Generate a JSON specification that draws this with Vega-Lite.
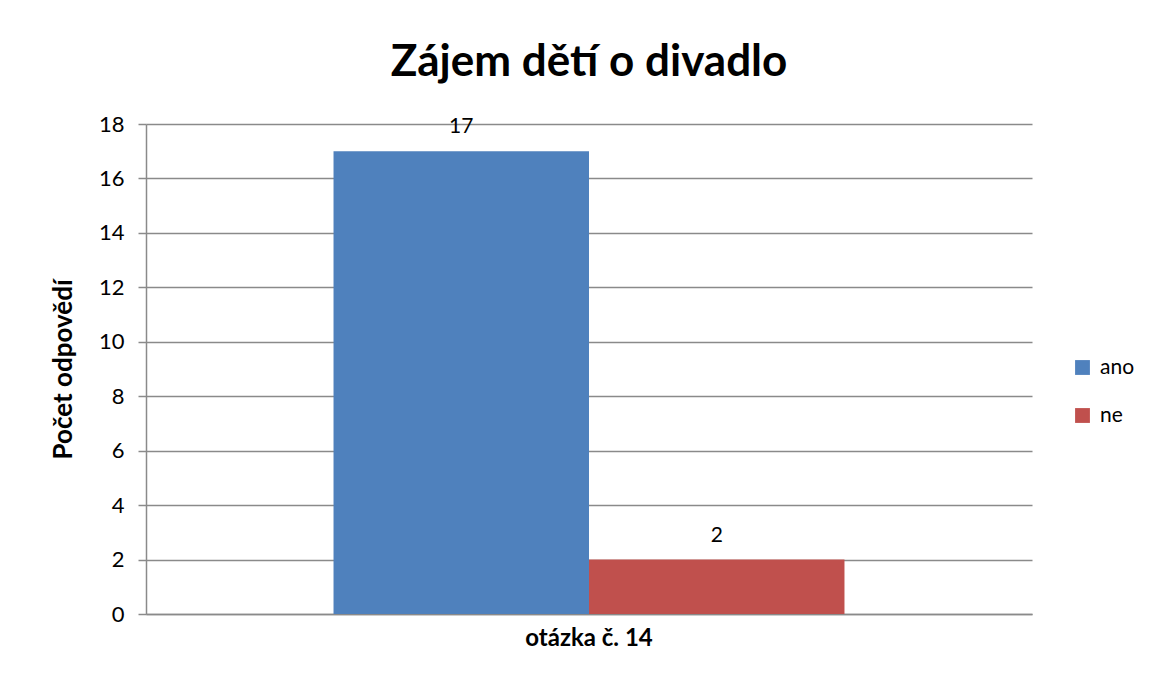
{
  "$schema": "https://vega.github.io/schema/vega-lite/v6.json",
  "autosize": {"type": "none"},
  "width": 886,
  "height": 490,
  "padding": {"left": 146, "top": 124, "right": 121, "bottom": 64},
  "background": "white",
  "config": {
    "font": "Lato",
    "view": {"stroke": null},
    "axis": {"labelFont": "Lato", "titleFont": "Lato", "labelColor": "#000", "titleColor": "#000"}
  },
  "title": {
    "text": "Zájem dětí o divadlo",
    "font": "Lato",
    "fontSize": 44,
    "fontWeight": "bold",
    "color": "#000",
    "anchor": "middle",
    "offset": 28
  },
  "data": {
    "values": [
      {"q": "otázka č. 14", "odpoved": "ano", "pocet": 17},
      {"q": "otázka č. 14", "odpoved": "ne", "pocet": 2}
    ]
  },
  "encoding": {
    "x": {
      "field": "q",
      "type": "nominal",
      "title": null,
      "scale": {"paddingInner": 0, "paddingOuter": 0.367},
      "axis": {
        "labelAngle": 0,
        "labelFontSize": 24,
        "labelFontWeight": "bold",
        "labelPadding": 12,
        "ticks": false,
        "domainColor": "#8a8a8a",
        "domainWidth": 1.5
      }
    },
    "xOffset": {"field": "odpoved", "type": "nominal", "scale": {"paddingInner": 0, "paddingOuter": 0}},
    "y": {
      "field": "pocet",
      "type": "quantitative",
      "title": "Počet odpovědí",
      "scale": {"domain": [0, 18], "nice": false},
      "axis": {
        "values": [0, 2, 4, 6, 8, 10, 12, 14, 16, 18],
        "labelFontSize": 22,
        "labelPadding": 14,
        "tickSize": 8,
        "tickColor": "#8a8a8a",
        "tickWidth": 1.5,
        "domainColor": "#8a8a8a",
        "domainWidth": 1.5,
        "gridColor": "#8a8a8a",
        "gridWidth": 1.5,
        "titleFontSize": 26,
        "titleFontWeight": "bold",
        "titlePadding": 22
      }
    }
  },
  "layer": [
    {
      "mark": {"type": "bar"},
      "encoding": {
        "color": {
          "field": "odpoved",
          "type": "nominal",
          "title": null,
          "scale": {"domain": ["ano", "ne"], "range": ["#4F81BD", "#C0504D"]},
          "legend": {
            "orient": "none",
            "legendX": 926,
            "legendY": 233,
            "symbolType": "square",
            "symbolSize": 220,
            "symbolStrokeWidth": 0,
            "labelFontSize": 21,
            "labelFont": "Lato",
            "labelColor": "#000",
            "rowPadding": 26,
            "labelOffset": 7
          }
        }
      }
    },
    {
      "mark": {"type": "text", "baseline": "alphabetic", "dy": -18, "fontSize": 21, "font": "Lato", "color": "#000"},
      "encoding": {"text": {"field": "pocet", "type": "quantitative"}}
    }
  ]
}
